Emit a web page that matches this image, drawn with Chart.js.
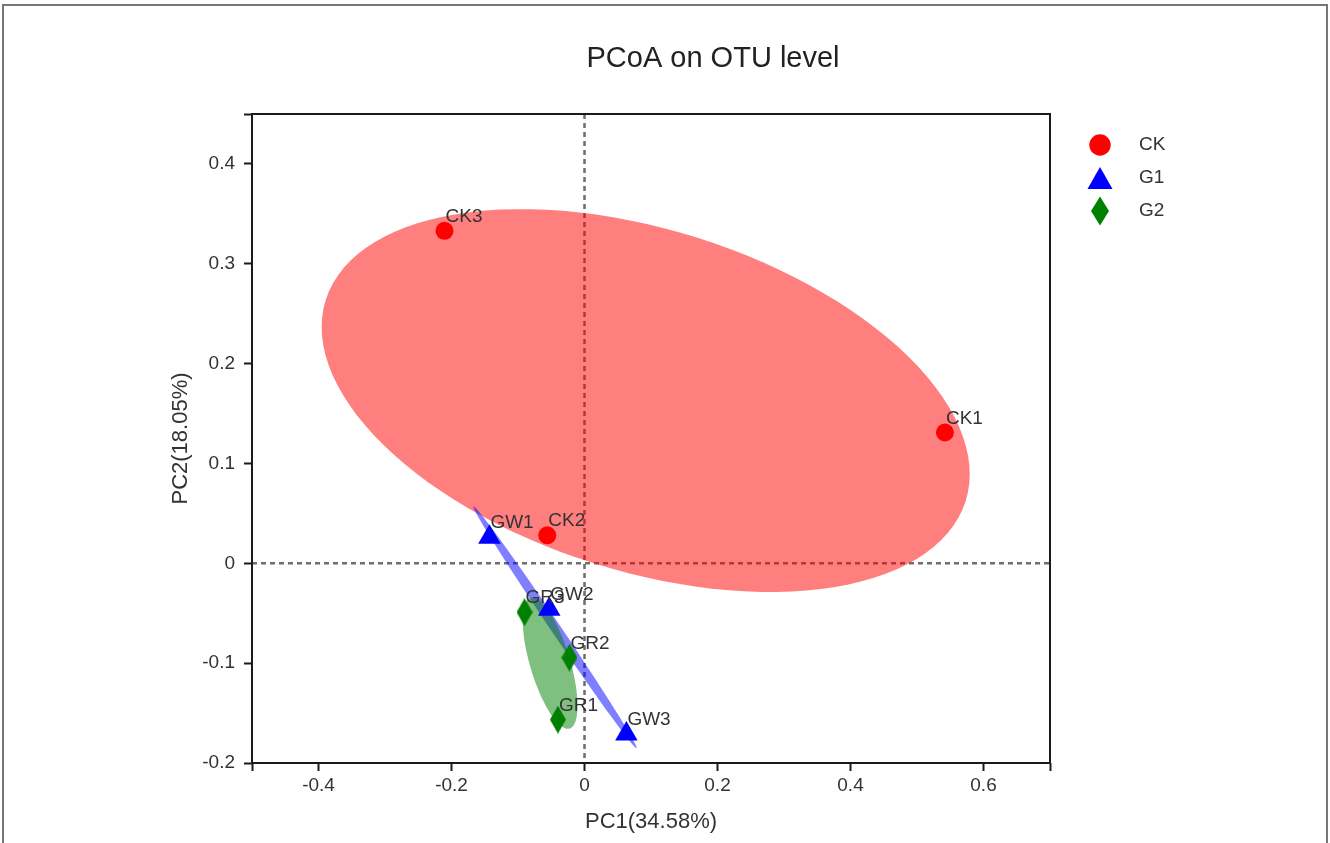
<!DOCTYPE html>
<html>
<head>
<meta charset="utf-8">
<script src="https://cdn.jsdelivr.net/npm/chart.js@4.4.1/dist/chart.umd.min.js"></script>
<style>
  html, body { margin: 0; padding: 0; background: #fff; }
  canvas { display: block; }
</style>
</head>
<body>
<canvas id="pcoa" width="1330" height="843"></canvas>
<script>
// Sample scores (PC1, PC2) per group
const ckNames = ['CK1', 'CK2', 'CK3'];
const ckPC1 = [0.542, -0.056, -0.2105];
const ckPC2 = [0.131, 0.028, 0.333];

const g1Names = ['GW1', 'GW2', 'GW3'];
const g1PC1 = [-0.143, -0.053, 0.063];
const g1PC2 = [0.026, -0.046, -0.171];

const g2Names = ['GR1', 'GR2', 'GR3'];
const g2PC1 = [-0.040, -0.0226, -0.0902];
const g2PC2 = [-0.1565, -0.0945, -0.049];

// Group ellipses: centre x, centre y, then two conjugate half-axes (ux, uy, vx, vy), axis units
const ckEllipse = [0.092, 0.163, 0.481, -0.101, -0.078, -0.163];
const g1Ellipse = [-0.0444, -0.064, 0.1226, -0.121, 0.0062, 0.0028];
const g2Ellipse = [-0.0517, -0.100, 0.0293, -0.0655, 0.0289, 0.0057];

// Axes
const xRange = [-0.5, 0.7];
const yRange = [-0.2, 0.45];
const xTicks = [-0.4, -0.2, 0, 0.2, 0.4, 0.6];
const yTicks = [-0.2, -0.1, 0, 0.1, 0.2, 0.3, 0.4];

const groupNames = ['CK', 'G1', 'G2'];

const FONT = '"Liberation Sans", Arial, sans-serif';
const TEXT = '#333';
const AXIS = '#1a1a1a';

// long thin diamond marker, as an image point style
function diamond(w, h, color) {
    const c = document.createElement('canvas');
    c.width = w;
    c.height = h;
    const g = c.getContext('2d');
    g.fillStyle = color;
    g.beginPath();
    g.moveTo(w / 2, 0);
    g.lineTo(w, h / 2);
    g.lineTo(w / 2, h);
    g.lineTo(0, h / 2);
    g.closePath();
    g.fill();
    return c;
}

function points(names, xs, ys) {
    return names.map((n, i) => ({ x: xs[i], y: ys[i], name: n }));
}

function drawEllipse(ctx, x, y, e, color) {
    const [cx, cy, ux, uy, vx, vy] = e;
    ctx.beginPath();
    for (let i = 0; i <= 120; i++) {
        const t = i / 120 * Math.PI * 2;
        const px = x.getPixelForValue(cx + ux * Math.cos(t) + vx * Math.sin(t));
        const py = y.getPixelForValue(cy + uy * Math.cos(t) + vy * Math.sin(t));
        if (i === 0) ctx.moveTo(px, py); else ctx.lineTo(px, py);
    }
    ctx.closePath();
    ctx.fillStyle = color;
    ctx.fill();
}

const decor = {
    id: 'decor',
    beforeDatasetsDraw(chart) {
        const { ctx, chartArea: a, scales: { x, y } } = chart;
        ctx.save();
        ctx.beginPath();
        ctx.rect(a.left, a.top, a.right - a.left, a.bottom - a.top);
        ctx.clip();

        // dotted zero lines
        ctx.strokeStyle = '#6e6e6e';
        ctx.lineWidth = 2.5;
        ctx.setLineDash([5, 4]);
        ctx.beginPath();
        const x0 = x.getPixelForValue(0);
        const y0 = y.getPixelForValue(0);
        ctx.moveTo(x0, a.top);
        ctx.lineTo(x0, a.bottom);
        ctx.moveTo(a.left, y0);
        ctx.lineTo(a.right, y0);
        ctx.stroke();
        ctx.setLineDash([]);

        drawEllipse(ctx, x, y, ckEllipse, 'rgba(255,0,0,0.5)');
        drawEllipse(ctx, x, y, g1Ellipse, 'rgba(0,0,255,0.5)');
        drawEllipse(ctx, x, y, g2Ellipse, 'rgba(0,128,0,0.5)');
        ctx.restore();
    },
    afterDatasetsDraw(chart) {
        const ctx = chart.ctx;
        ctx.save();
        ctx.font = '19px ' + FONT;
        ctx.fillStyle = TEXT;
        ctx.textAlign = 'left';
        ctx.textBaseline = 'alphabetic';
        chart.data.datasets.forEach((ds, di) => {
            chart.getDatasetMeta(di).data.forEach((el, i) => {
                ctx.fillText(ds.data[i].name, el.x + 1, el.y - 9);
            });
        });
        ctx.restore();
    },
    afterDraw(chart) {
        const { ctx, chartArea: a } = chart;
        ctx.save();

        // plot box
        ctx.strokeStyle = AXIS;
        ctx.lineWidth = 2;
        ctx.strokeRect(a.left, a.top, a.right - a.left, a.bottom - a.top);

        // title
        ctx.fillStyle = '#222';
        ctx.font = '29px ' + FONT;
        ctx.textAlign = 'center';
        ctx.textBaseline = 'alphabetic';
        ctx.fillText('PCoA on OTU level', 713, 67);

        // legend
        const lx = 1100;
        const rows = [145, 178, 211];
        ctx.fillStyle = '#ff0000';
        ctx.beginPath();
        ctx.arc(lx, rows[0], 10.7, 0, Math.PI * 2);
        ctx.fill();
        ctx.fillStyle = '#0000ff';
        ctx.beginPath();
        ctx.moveTo(lx, rows[1] - 11);
        ctx.lineTo(lx + 12.5, rows[1] + 11);
        ctx.lineTo(lx - 12.5, rows[1] + 11);
        ctx.closePath();
        ctx.fill();
        ctx.fillStyle = '#008000';
        ctx.beginPath();
        ctx.moveTo(lx, rows[2] - 14.5);
        ctx.lineTo(lx + 9, rows[2]);
        ctx.lineTo(lx, rows[2] + 14.5);
        ctx.lineTo(lx - 9, rows[2]);
        ctx.closePath();
        ctx.fill();

        ctx.fillStyle = TEXT;
        ctx.font = '19px ' + FONT;
        ctx.textAlign = 'left';
        ctx.textBaseline = 'middle';
        groupNames.forEach((n, i) => ctx.fillText(n, 1139, rows[i]));

        // outer frame
        ctx.strokeStyle = '#777';
        ctx.lineWidth = 2;
        ctx.strokeRect(3, 5, 1324, 900);
        ctx.restore();
    }
};

function fmt(v) {
    return String(+v.toFixed(2));
}

new Chart(document.getElementById('pcoa'), {
    type: 'scatter',
    data: {
        datasets: [
            {
                label: 'CK',
                data: points(ckNames, ckPC1, ckPC2),
                pointStyle: 'circle',
                pointRadius: 9,
                backgroundColor: '#ff0000',
                borderWidth: 0
            },
            {
                label: 'G1',
                data: points(g1Names, g1PC1, g1PC2),
                pointStyle: 'triangle',
                pointRadius: 13,
                backgroundColor: '#0000ff',
                borderWidth: 0
            },
            {
                label: 'G2',
                data: points(g2Names, g2PC1, g2PC2),
                pointStyle: diamond(16, 28, '#008000'),
                pointRadius: 14,
                backgroundColor: '#008000',
                borderWidth: 0
            }
        ]
    },
    options: {
        responsive: false,
        animation: false,
        events: [],
        layout: { padding: { top: 114, right: 280, bottom: 0, left: 0 } },
        plugins: {
            legend: { display: false },
            tooltip: { enabled: false },
            title: { display: false }
        },
        scales: {
            x: {
                type: 'linear',
                min: xRange[0],
                max: xRange[1],
                afterBuildTicks: s => { s.ticks = [xRange[0], ...xTicks, xRange[1]].map(v => ({ value: v })); },
                afterFit: s => { s.height = 80; },
                grid: { drawOnChartArea: false, drawTicks: true, tickLength: 8, color: AXIS, tickWidth: 2 },
                border: { display: false },
                ticks: {
                    autoSkip: false,
                    maxRotation: 0,
                    padding: 3,
                    color: TEXT,
                    font: { family: FONT, size: 19 },
                    callback: v => xTicks.includes(v) ? fmt(v) : ''
                },
                title: {
                    display: true,
                    text: 'PC1(34.58%)',
                    color: TEXT,
                    font: { family: FONT, size: 22 },
                    padding: { top: 0, bottom: 8 }
                }
            },
            y: {
                type: 'linear',
                min: yRange[0],
                max: yRange[1],
                afterBuildTicks: s => { s.ticks = [...yTicks, yRange[1]].map(v => ({ value: v })); },
                afterFit: s => { s.width = 252; },
                grid: { drawOnChartArea: false, drawTicks: true, tickLength: 8, color: AXIS, tickWidth: 2 },
                border: { display: false },
                ticks: {
                    autoSkip: false,
                    padding: 9,
                    color: TEXT,
                    font: { family: FONT, size: 19 },
                    callback: v => yTicks.includes(v) ? fmt(v) : ''
                },
                title: {
                    display: true,
                    text: 'PC2(18.05%)',
                    color: TEXT,
                    font: { family: FONT, size: 22 },
                    padding: { top: 168, bottom: 0 }
                }
            }
        }
    },
    plugins: [decor]
});
</script>
</body>
</html>
